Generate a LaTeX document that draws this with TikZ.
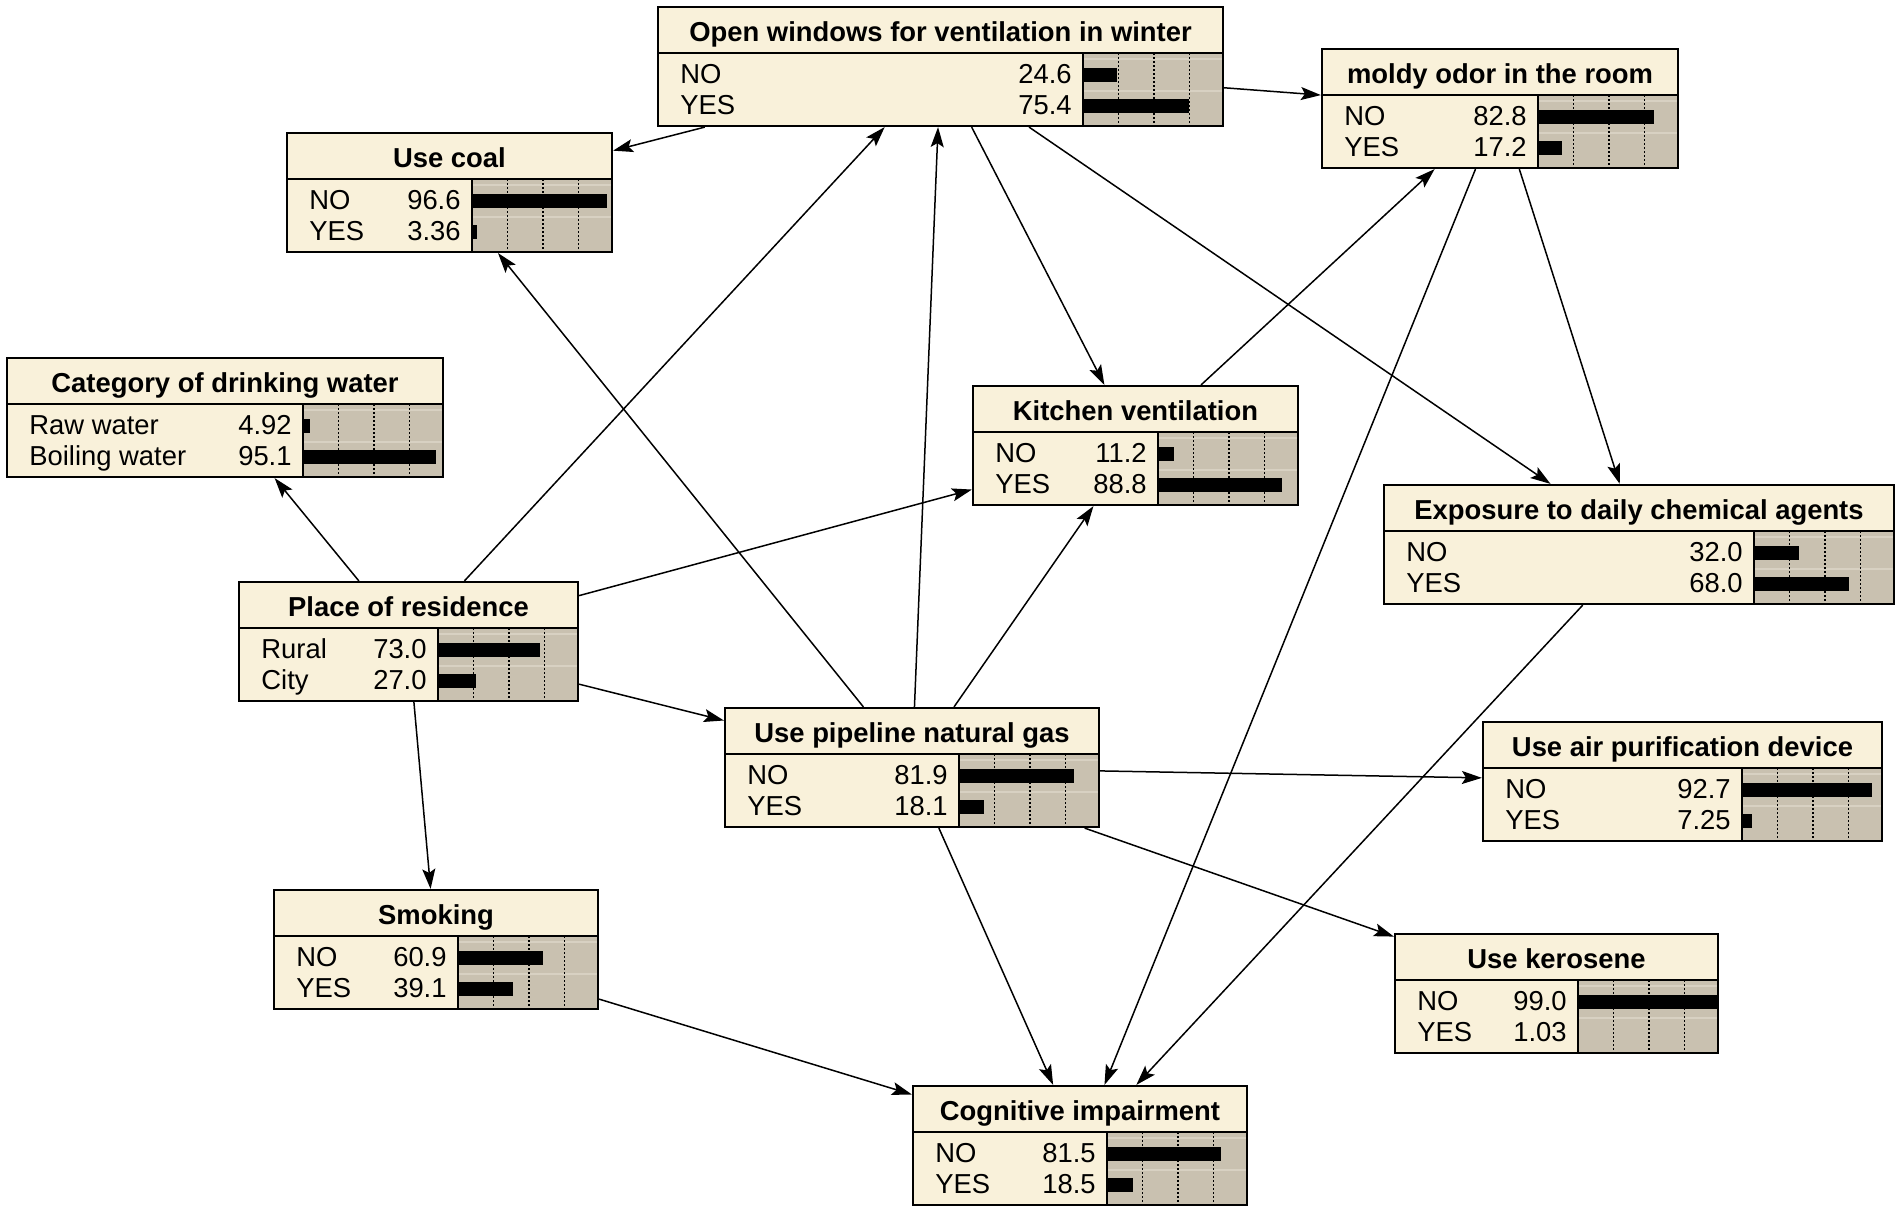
\documentclass[tikz,border=0pt]{standalone}
\usepackage{fontspec}
\setmainfont{Liberation Sans}
\usetikzlibrary{arrows.meta,fit}
\definecolor{bncream}{HTML}{F9F1DA}
\definecolor{bnbar}{HTML}{C9C1B0}
\definecolor{bnlight}{HTML}{D8D1C2}
\tikzset{
  bnframe/.style={draw=black, line width=1.1pt, inner sep=0pt},
  bntitle/.style={font=\fontsize{13.7pt}{16pt}\selectfont\bfseries, inner sep=0pt, anchor=base},
  bnrow/.style={font=\fontsize{13.7pt}{16pt}\selectfont, inner sep=0pt},
  bnsep/.style={line width=0.9pt, draw=black},
  bndot/.style={line width=0.9pt, dash pattern=on 1pt off 1pt},
  bnedge/.style={draw=black, line width=0.75pt, -{Stealth[length=10pt,width=6.5pt,inset=2pt]}},
}
\newcommand{\bnbox}[9]{%
  \fill[bncream] (#2,#3) rectangle ({#4+140},{#3+119});
  \fill[bnbar] (#4,{#3+46}) rectangle ({#4+140},{#3+119});
  \draw[bnlight, line width=0.6pt] (#4,{#3+52}) -- ({#4+140},{#3+52}) (#4,{#3+84}) -- ({#4+140},{#3+84});
  \foreach \q in {35.5,71,106.5}{\draw[bndot] ({#4+\q},{#3+46}) -- ({#4+\q},{#3+119});}
  \fill[black] (#4,{#3+61}) rectangle ({#4+1.4*#7},{#3+75});
  \fill[black] (#4,{#3+92}) rectangle ({#4+1.4*#9},{#3+106});
  \draw[bnsep] (#2,{#3+46}) -- ({#4+140},{#3+46});
  \draw[bnsep] (#4,{#3+46}) -- (#4,{#3+119});
  \coordinate (#1-nw) at (#2,#3);
  \coordinate (#1-se) at ({#4+140},{#3+119});
  \node[bnframe, fit=(#1-nw)(#1-se)] (#1) {};
  \node[bntitle] (#1-t) at ({(#2+#4+140)/2},{#3+34}) {#5};
  \node[bnrow, anchor=base west] (#1-a) at ({#2+22},{#3+76}) {#6};
  \node[bnrow, anchor=base east] (#1-av) at ({#4-11},{#3+76}) {#7};
  \node[bnrow, anchor=base west] (#1-b) at ({#2+22},{#3+107}) {#8};
  \node[bnrow, anchor=base east] (#1-bv) at ({#4-11},{#3+107}) {#9};
}
\begin{document}
\begin{tikzpicture}[x=0.5pt,y=-0.5pt]
\useasboundingbox (0,0) rectangle (1901,1211);
\fill[white] (0,0) rectangle (1901,1211);

\bnbox{openwin}{658}{7}{1083}{Open windows for ventilation in winter}{NO}{24.6}{YES}{75.4}
\bnbox{moldy}{1322}{49}{1538}{moldy odor in the room}{NO}{82.8}{YES}{17.2}
\bnbox{coal}{287}{133}{472}{Use coal}{NO}{96.6}{YES}{3.36}
\bnbox{water}{7}{358}{303}{Category of drinking water}{Raw water}{4.92}{Boiling water}{95.1}
\bnbox{kitchen}{973}{386}{1158}{Kitchen ventilation}{NO}{11.2}{YES}{88.8}
\bnbox{expo}{1384}{485}{1754}{Exposure to daily chemical agents}{NO}{32.0}{YES}{68.0}
\bnbox{place}{239}{582}{438}{Place of residence}{Rural}{73.0}{City}{27.0}
\bnbox{gas}{725}{708}{959}{Use pipeline natural gas}{NO}{81.9}{YES}{18.1}
\bnbox{air}{1483}{722}{1742}{Use air purification device}{NO}{92.7}{YES}{7.25}
\bnbox{smoke}{274}{890}{458}{Smoking}{NO}{60.9}{YES}{39.1}
\bnbox{kero}{1395}{934}{1578}{Use kerosene}{NO}{99.0}{YES}{1.03}
\bnbox{cog}{913}{1086}{1107}{Cognitive impairment}{NO}{81.5}{YES}{18.5}

\draw[bnedge] (openwin) -- (coal);
\draw[bnedge] (openwin) -- (moldy);
\draw[bnedge] (openwin) -- (kitchen);
\draw[bnedge] (openwin) -- (expo);
\draw[bnedge] (moldy) -- (expo);
\draw[bnedge] (moldy) -- (cog);
\draw[bnedge] (kitchen) -- (moldy);
\draw[bnedge] (place) -- (water);
\draw[bnedge] (place) -- (openwin);
\draw[bnedge] (place) -- (kitchen);
\draw[bnedge] (place) -- (gas);
\draw[bnedge] (place) -- (smoke);
\draw[bnedge] (gas) -- (coal);
\draw[bnedge] (gas) -- (openwin);
\draw[bnedge] (gas) -- (kitchen);
\draw[bnedge] (gas) -- (air);
\draw[bnedge] (gas) -- (kero);
\draw[bnedge] (gas) -- (cog);
\draw[bnedge] (smoke) -- (cog);
\draw[bnedge] (expo) -- (cog);
\end{tikzpicture}
\end{document}
